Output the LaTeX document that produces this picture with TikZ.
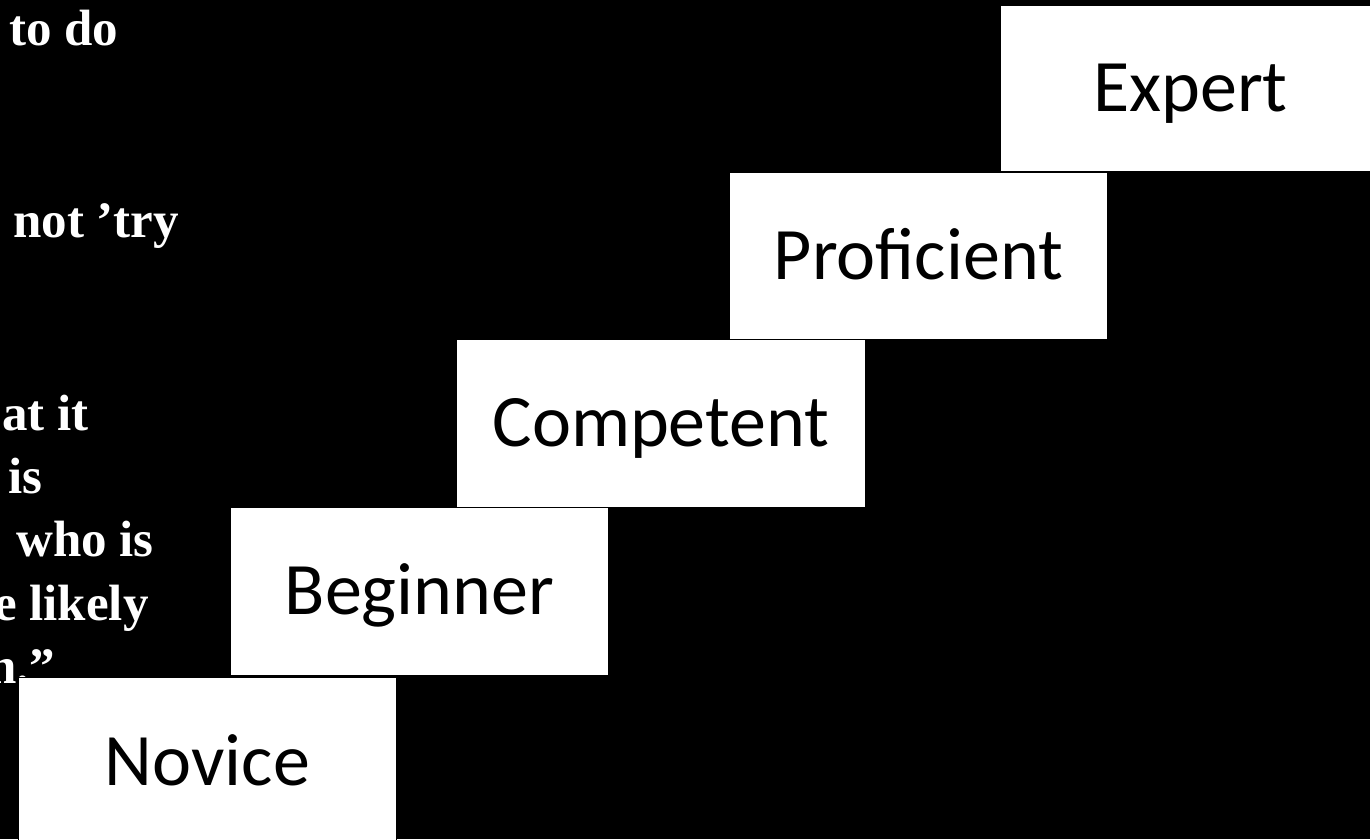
\documentclass[tikz,border=0pt]{standalone}
\usepackage{fontspec}
\setmainfont{Liberation Serif}
\newfontfamily\stagefont{Carlito}
\begin{document}
\begin{tikzpicture}[x=1pt,y=-1pt]
\tikzstyle{stage}=[draw=black,fill=white,line width=0.8pt,anchor=north west,inner sep=0pt,text height=47pt,text depth=0pt,font=\stagefont\fontsize{74}{80}\selectfont]
\tikzstyle{quote}=[anchor=base west,inner sep=0pt,text=white,font=\bfseries\fontsize{51}{56}\selectfont]
\fill[black] (0,0) rectangle (1370,839);
\useasboundingbox (0,0) rectangle (1370,839);
\clip (0,0) rectangle (1370,839);
% quotation, cut at the left edge
\node[quote] (q1) at (9,45) {to do};
\node[quote] (q2) at (13,237) {not ’try};
\node[quote] (q3) at (2,430) {at it};
\node[quote] (q4) at (8,493) {is};
\node[quote] (q5) at (16,556) {who is};
\node[quote] (q6) at (-6,620) {e likely};
\node[quote] (q7) at (-12,683) {n.”};
% the five stages
\node[stage,minimum width=378pt,minimum height=170pt] (novice) at (18,677) {Novice};
\node[stage,minimum width=378pt,minimum height=168pt] (beginner) at (230,507) {Beginner};
\node[stage,minimum width=409pt,minimum height=168pt] (competent) at (456,339) {Competent};
\node[stage,minimum width=378pt,minimum height=167pt] (proficient) at (729,172) {Proficient};
\node[stage,minimum width=380pt,minimum height=166pt] (expert) at (1000,5) {Expert};
\end{tikzpicture}
\end{document}
